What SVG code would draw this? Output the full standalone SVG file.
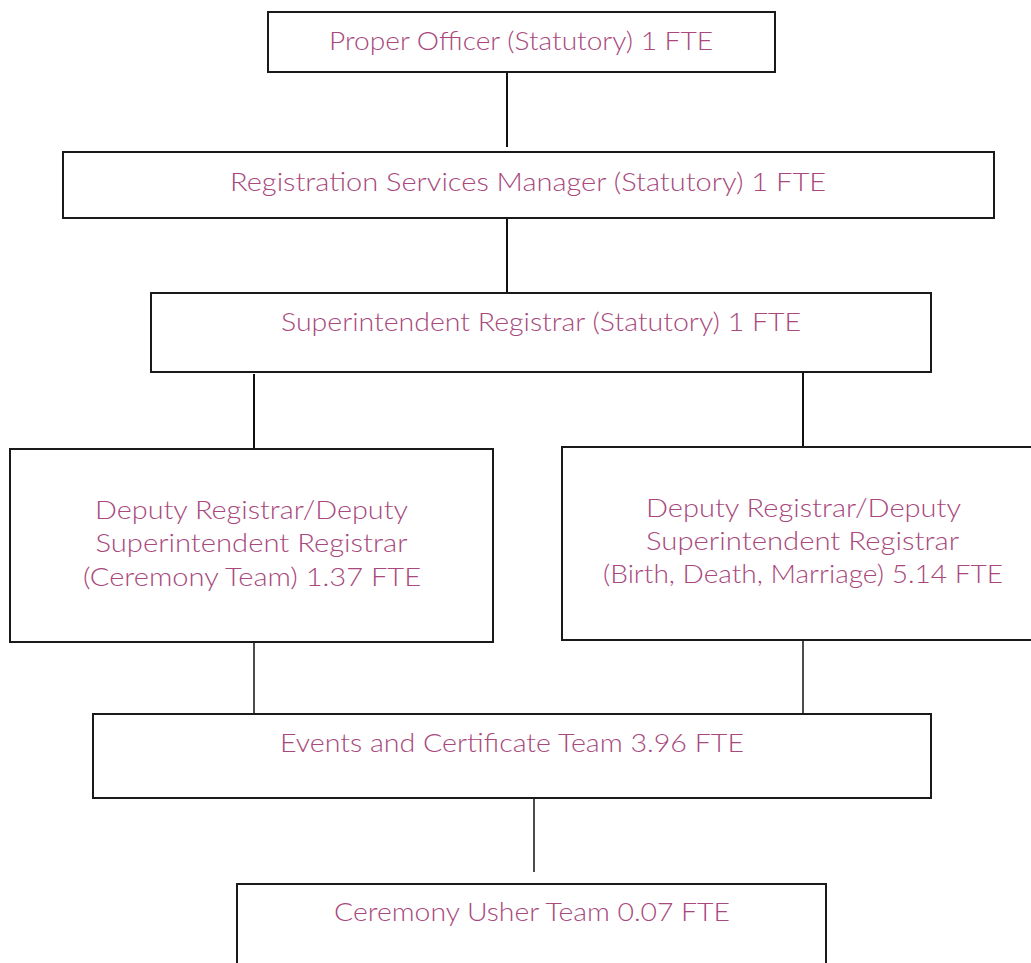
<svg xmlns="http://www.w3.org/2000/svg" width="1031" height="963" viewBox="0 0 1031 963">
<style>
.box{fill:#ffffff;stroke:#1a1a1a;stroke-width:2}
.t{font-family:Lato,"Liberation Sans",sans-serif;font-weight:300;font-size:25px;fill:#a8487c;text-anchor:middle}
.c{stroke:#111;stroke-width:2;fill:none}
</style>
<rect width="1031" height="963" fill="#ffffff"/>
<g id="connectors">
<line class="c" x1="507" y1="72" x2="507" y2="147"/>
<line class="c" x1="507" y1="218" x2="507" y2="293"/>
<line class="c" x1="254" y1="374" x2="254" y2="449"/>
<line class="c" x1="803" y1="372" x2="803" y2="447"/>
<line class="c" x1="254" y1="641" x2="254" y2="714" style="stroke-width:1.5"/>
<line class="c" x1="803" y1="640" x2="803" y2="714" style="stroke-width:1.5"/>
<line class="c" x1="534" y1="798" x2="534" y2="872" style="stroke-width:1.5"/>
</g>
<g id="proper-officer">
<rect class="box" x="268" y="12" width="507" height="60"/>
<text class="t" x="521" y="50" textLength="384" lengthAdjust="spacingAndGlyphs">Proper Officer (Statutory) 1 FTE</text>
</g>
<g id="registration-services-manager">
<rect class="box" x="63" y="152" width="931" height="66"/>
<text class="t" x="528" y="191" textLength="596" lengthAdjust="spacingAndGlyphs">Registration Services Manager (Statutory) 1 FTE</text>
</g>
<g id="superintendent-registrar">
<rect class="box" x="151" y="293" width="780" height="79"/>
<text class="t" x="541" y="331" textLength="520" lengthAdjust="spacingAndGlyphs">Superintendent Registrar (Statutory) 1 FTE</text>
</g>
<g id="deputy-ceremony">
<rect class="box" x="10" y="449" width="483" height="193"/>
<text class="t" x="251.5" y="519" textLength="313" lengthAdjust="spacingAndGlyphs">Deputy Registrar/Deputy</text>
<text class="t" x="251.5" y="552" textLength="312" lengthAdjust="spacingAndGlyphs">Superintendent Registrar</text>
<text class="t" x="252" y="586" textLength="338" lengthAdjust="spacingAndGlyphs">(Ceremony Team) 1.37 FTE</text>
</g>
<g id="deputy-bdm">
<rect class="box" x="562" y="447" width="480" height="193"/>
<text class="t" x="803.5" y="517" textLength="315" lengthAdjust="spacingAndGlyphs">Deputy Registrar/Deputy</text>
<text class="t" x="802.5" y="550" textLength="313" lengthAdjust="spacingAndGlyphs">Superintendent Registrar</text>
<text class="t" x="803" y="583" textLength="400" lengthAdjust="spacingAndGlyphs">(Birth, Death, Marriage) 5.14 FTE</text>
</g>
<g id="events-certificate">
<rect class="box" x="93" y="714" width="838" height="84"/>
<text class="t" x="512" y="752" textLength="464" lengthAdjust="spacingAndGlyphs">Events and Certificate Team 3.96 FTE</text>
</g>
<g id="ceremony-usher">
<rect class="box" x="237" y="884" width="589" height="90"/>
<text class="t" x="532" y="921" textLength="396" lengthAdjust="spacingAndGlyphs">Ceremony Usher Team 0.07 FTE</text>
</g>
</svg>
